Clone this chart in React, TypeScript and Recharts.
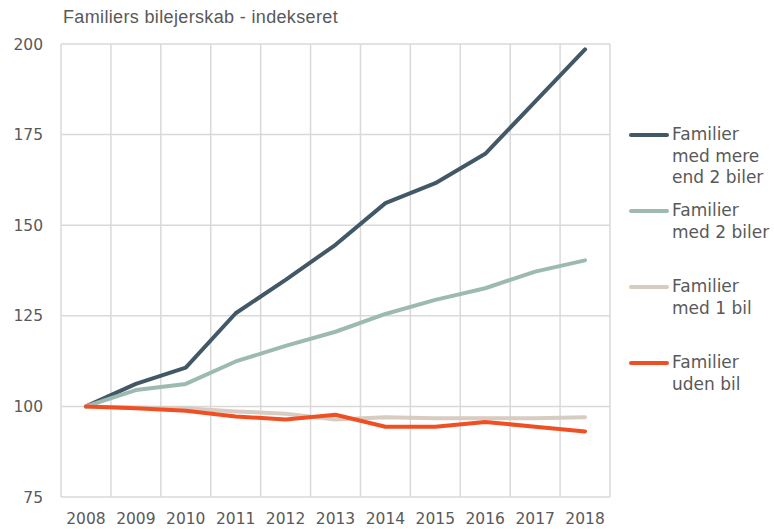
import React from "react";
import { LineChart, Line, XAxis, YAxis, CartesianGrid } from "recharts";

const years = [2008, 2009, 2010, 2011, 2012, 2013, 2014, 2015, 2016, 2017, 2018];
const mereEnd2 = [100, 106.2, 110.7, 125.7, 134.9, 144.6, 156.1, 161.6, 169.7, 184.1, 198.5];
const med2 = [100, 104.5, 106.2, 112.4, 116.7, 120.6, 125.5, 129.4, 132.6, 137.2, 140.3];
const med1 = [100, 99.7, 99.5, 98.6, 98.0, 96.4, 97.0, 96.7, 96.7, 96.7, 97.0];
const udenBil = [100, 99.5, 98.8, 97.2, 96.4, 97.7, 94.4, 94.4, 95.7, 94.4, 93.1];
const yTicks = [75, 100, 125, 150, 175, 200];
const title = "Familiers bilejerskab - indekseret";

const series = [
  { key: "mereEnd2", values: mereEnd2, label: "Familier\nmed mere\nend 2 biler", color: "#435867" },
  { key: "med2", values: med2, label: "Familier\nmed 2 biler", color: "#9cbbae" },
  { key: "med1", values: med1, label: "Familier\nmed 1 bil", color: "#d6ccc1" },
  { key: "udenBil", values: udenBil, label: "Familier\nuden bil", color: "#f04f24" },
];

const data = years.map((y, i) => {
  const row: Record<string, number> = { year: y };
  series.forEach((s) => {
    row[s.key] = s.values[i];
  });
  return row;
});

const textColor = "#595959";
const gridColor = "#d9d9d9";
const font = "'DejaVu Sans', Verdana, sans-serif";

export default function App() {
  const gridGen = ({ offset }: any) => {
    const n = years.length;
    const out: number[] = [];
    for (let i = 0; i <= n; i++) out.push(offset.left + (i * offset.width) / n);
    return out;
  };
  return (
    <div style={{ position: "absolute", left: 0, top: 0, width: 774, height: 529, background: "#fff" }}>
      <div
        style={{
          position: "absolute",
          left: 63,
          top: 7,
          fontFamily: "'Liberation Sans', Arial, sans-serif",
          fontSize: 18,
          letterSpacing: 0.35,
          lineHeight: "21px",
          color: textColor,
          whiteSpace: "nowrap",
        }}
      >
        {title}
      </div>
      <LineChart
        width={774}
        height={529}
        data={data}
        margin={{ top: 44, right: 164, bottom: 2, left: 0 }}
      >
        <CartesianGrid
          stroke={gridColor}
          strokeWidth={1.5}
          verticalCoordinatesGenerator={gridGen}
        />
        <XAxis
          dataKey="year"
          type="number"
          domain={[2007.5, 2018.5]}
          ticks={years}
          height={30}
          axisLine={false}
          tickLine={false}
          tickSize={6}
          tickMargin={10}
          tick={{ fill: textColor, fontSize: 15.5, fontFamily: font }}
          interval={0}
        />
        <YAxis
          domain={[75, 200]}
          ticks={yTicks}
          width={61}
          axisLine={false}
          tickLine={false}
          tickSize={6}
          tickMargin={12}
          tick={{ fill: textColor, fontSize: 15.5, fontFamily: font }}
        />
        {series.map((s) => (
          <Line
            key={s.key}
            dataKey={s.key}
            stroke={s.color}
            strokeWidth={4}
            dot={false}
            activeDot={false}
            isAnimationActive={false}
            strokeLinejoin="round"
            strokeLinecap="round"
          />
        ))}
      </LineChart>
      <div style={{ position: "absolute", left: 629, top: 124 }}>
        {series.map((s) => (
          <div key={s.key} style={{ position: "relative", height: 76, display: "flex", alignItems: "flex-start" }}>
            <div
              style={{
                width: 40,
                height: 4,
                borderRadius: 2,
                background: s.color,
                marginTop: 9,
                flex: "none",
              }}
            />
            <div
              style={{
                marginLeft: 3,
                fontFamily: font,
                fontSize: 17,
                lineHeight: "21.5px",
                color: textColor,
                whiteSpace: "pre-line",
              }}
            >
              {s.label}
            </div>
          </div>
        ))}
      </div>
    </div>
  );
}
